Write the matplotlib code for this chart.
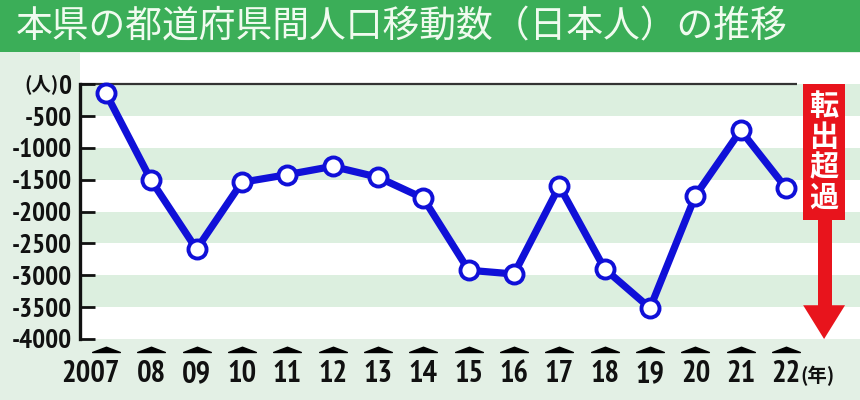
import matplotlib
matplotlib.use("Agg")
import matplotlib.pyplot as plt
import numpy as np
from matplotlib.patches import Rectangle, Polygon
from matplotlib.path import Path
from matplotlib.transforms import blended_transform_factory, offset_copy
from matplotlib import font_manager as fm

# ---- data ----
years = [2007, 2008, 2009, 2010, 2011, 2012, 2013, 2014, 2015, 2016,
         2017, 2018, 2019, 2020, 2021, 2022]
year_labels = ["2007", "08", "09", "10", "11", "12", "13", "14", "15", "16",
               "17", "18", "19", "20", "21", "22"]
values = [-140, -1510, -2590, -1540, -1420, -1290, -1460, -1790, -2920, -2980,
          -1600, -2900, -3515, -1750, -725, -1630]
y_ticks = [0, -500, -1000, -1500, -2000, -2500, -3000, -3500, -4000]
y_tick_labels = ["0", "-500", "-1000", "-1500", "-2000", "-2500",
                 "-3000", "-3500", "-4000"]
unit_y = "(人)"
title = "本県の都道府県間人口移動数（日本人）の推移"
note = "転\n出\n超\n過"
unit_x = "(年)"

# ---- condensed bold font lookup ----
def find_condensed():
    best = None
    for f in fm.fontManager.ttflist:
        nm = f.name
        narrow = ("Narrow" in nm or "Condensed" in nm or
                  str(f.stretch) in ("condensed", "semi-condensed", "extra-condensed",
                                     "ultra-condensed") or
                  (isinstance(f.stretch, (int, float)) and f.stretch < 500))
        w = f.weight if isinstance(f.weight, int) else {"bold": 700}.get(f.weight, 400)
        if narrow and w >= 600 and f.style == "normal":
            rank = 0 if "Narrow" in nm else 1
            if best is None or rank < best[0]:
                best = (rank, f.fname)
    return best

found = find_condensed()
if found is not None:
    num_fp = lambda size: fm.FontProperties(fname=found[1], size=size)
    narrow_rank = found[0]
else:
    num_fp = lambda size: fm.FontProperties(family="DejaVu Sans", weight="bold", size=size * 0.85)
    narrow_rank = 2

xsize = 22 if narrow_rank == 0 else 17.5
ysize = 19.5 if narrow_rank == 0 else 15.5

# ---- style ----
W, H = 860, 400
page_bg = "#e3f0e5"
band_green = "#dcefdf"
title_green = "#3bae58"
line_blue = "#1010d8"
red = "#e8141c"
ink = "#111111"
cjk_font = ["Noto Sans CJK JP", "DejaVu Sans"]

fig = plt.figure(figsize=(W / 100, H / 100), dpi=100, facecolor=page_bg)

# title bar
fig.patches.append(Rectangle((0, 1 - 52 / H), 1, 52 / H, transform=fig.transFigure,
                             facecolor=title_green, edgecolor="none", zorder=0))
fig.text(16 / W, 1 - 27 / H, title, family=cjk_font, fontsize=26.5,
         color="#f0fbef", va="center", ha="left")

# axes
ax = fig.add_axes([80 / W, (H - 339) / H, 1 - 80 / W, (339 - 53) / H])
ax.set_facecolor("white")
ax.set_xlim(2006.43, 2023.63)
ax.set_ylim(-4000, 490)

# stripes
for i in range(len(y_ticks) - 1):
    if i % 2 == 0:
        ax.axhspan(y_ticks[i + 1], y_ticks[i], color=band_green, lw=0, zorder=0)

# zero line
ax.plot([ax.get_xlim()[0], 2022.24], [0, 0], color="#333333", lw=1.6, zorder=1,
        solid_capstyle="butt")

# series
ax.plot(years, values, color=line_blue, lw=5.2, zorder=3,
        marker="o", markersize=13, markerfacecolor="white",
        markeredgecolor=line_blue, markeredgewidth=2.8)

# spines / ticks
for s in ["top", "right", "bottom"]:
    ax.spines[s].set_visible(False)
ax.spines["left"].set_linewidth(2.4)
ax.spines["left"].set_bounds(-4000, 0)
ax.spines["left"].set_color(ink)
ax.set_yticks(y_ticks)
ax.set_yticklabels(y_tick_labels)
for lab in ax.get_yticklabels():
    lab.set_fontproperties(num_fp(ysize))
    lab.set_color(ink)
ax.tick_params(axis="y", direction="in", length=11, width=2.0, pad=6, color=ink)

# x tick labels: first one ("2007") sits left of its tick as in the reference
ax.set_xticks(years)
ax.set_xticklabels([""] + year_labels[1:])
for lab in ax.get_xticklabels():
    lab.set_fontproperties(num_fp(xsize))
    lab.set_color(ink)
ax.tick_params(axis="x", length=0, pad=15)

btrans = blended_transform_factory(ax.transData, ax.transAxes)
first_trans = offset_copy(btrans, fig=fig, x=14, y=-15 * 100 / 72, units="dots")
ax.text(years[0], 0, year_labels[0], transform=first_trans,
        fontproperties=num_fp(xsize), color=ink, ha="right", va="top")

# unit label for y axis, left of the "0" tick label
ytrans = blended_transform_factory(ax.transAxes, ax.transData)
ax.text(0, y_ticks[0], unit_y,
        transform=offset_copy(ytrans, fig=fig, x=-21, y=0, units="dots"),
        family=cjk_font, fontsize=14, fontweight="bold", color=ink,
        ha="right", va="center")

# roof-shaped tick markers
tri = Path([(-1, 0), (0, 0.38), (1, 0), (-1, 0)],
           [Path.MOVETO, Path.LINETO, Path.LINETO, Path.CLOSEPOLY])
ax.plot(years, [-0.047] * len(years), linestyle="none", marker=tri,
        markersize=20, color="black", transform=btrans, clip_on=False)

xlab_trans = offset_copy(btrans, fig=fig, x=14, y=0, units="dots")
ax.text(years[-1], -0.13, unit_x, transform=xlab_trans, family=cjk_font, fontsize=14,
        fontweight="bold", va="center", ha="left", color=ink)

# red arrow "転出超過"
ax.add_patch(Rectangle((2022.376, -2133), 0.925, 2133, facecolor=red,
                       edgecolor="none", zorder=4, clip_on=False))
ax.add_patch(Rectangle((2022.71, -3480), 0.31, 1360, facecolor=red,
                       edgecolor="none", zorder=4, clip_on=False))
ax.add_patch(Polygon([(2022.376, -3470), (2023.30, -3470), (2022.838, -4000)],
                     closed=True, facecolor=red, edgecolor="none", zorder=4,
                     clip_on=False))
ax.text(2022.838, -1066, note, family=cjk_font, fontsize=21, fontweight="bold",
        color="white", ha="center", va="center", linespacing=1.02, zorder=5)

fig.savefig("out.png", dpi=100, facecolor=page_bg)
